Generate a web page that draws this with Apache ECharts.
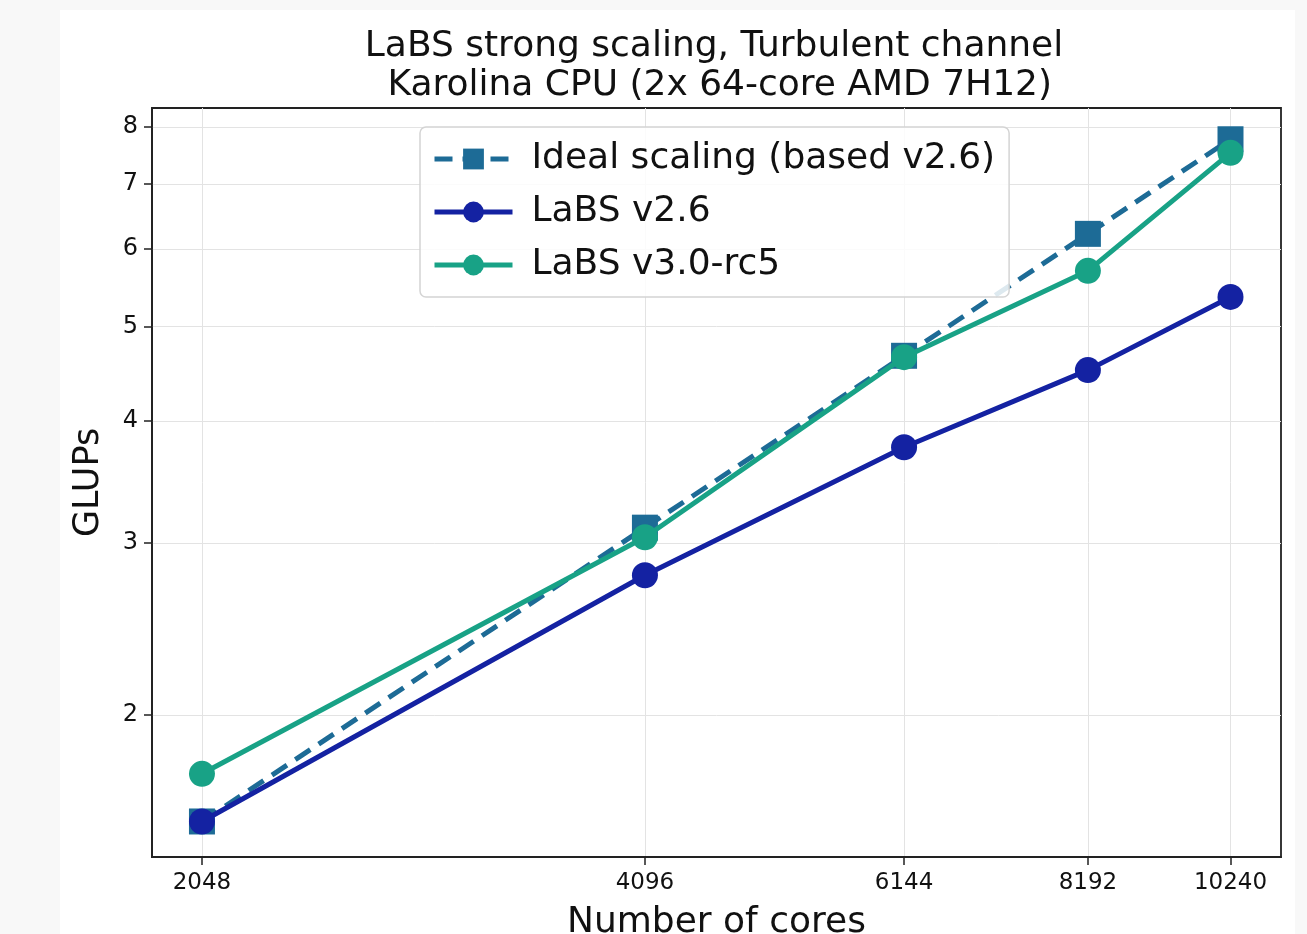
<!DOCTYPE html>
<html>
<head>
<meta charset="utf-8">
<script src="https://cdn.jsdelivr.net/npm/echarts@6/dist/echarts.min.js"></script>
<style>html,body{margin:0;padding:0;background:#f8f8f8;}#c{width:1307px;height:934px;}</style>
</head>
<body>
<div id="c"></div>
<script>
const cores = [2048, 4096, 6144, 8192, 10240];
const idealScaling = [1.555, 3.11, 4.665, 6.22, 7.775];
const labsV26 = [1.555, 2.78, 3.76, 4.51, 5.36];
const labsV30 = [1.74, 3.04, 4.65, 5.70, 7.53];
const yTicks = [2, 3, 4, 5, 6, 7, 8];
const xTicks = [2048, 4096, 6144, 8192, 10240];

const pair = (xs, ys) => xs.map((x, i) => [x, ys[i]]);
const FONT = 'DejaVu Sans';

const chart = echarts.init(document.getElementById('c'), null, {renderer: 'canvas'});
chart.setOption({
  backgroundColor: '#f8f8f8',
  animation: false,
  textStyle: {fontFamily: FONT},
  graphic: [{
    type: 'rect', silent: true, z: -10,
    shape: {x: 60, y: 10, width: 1235, height: 924},
    style: {fill: '#ffffff'}
  }],
  title: {
    text: 'LaBS strong scaling, Turbulent channel\n Karolina CPU (2x 64-core AMD 7H12)',
    left: 709, top: 22, textAlign: 'center',
    textStyle: {fontFamily: FONT, fontSize: 36, fontWeight: 'normal', color: '#111', lineHeight: 39}
  },
  grid: {left: 152, right: 26, top: 108, bottom: 77, show: true, borderColor: '#222', borderWidth: 1.8, outerBoundsMode: 'none', containLabel: false},
  legend: {
    orient: 'vertical', left: 420, top: 127,
    backgroundColor: 'rgba(255,255,255,0.85)',
    borderColor: '#d4d4d4', borderWidth: 1.5, borderRadius: 6,
    padding: [14, 14, 14, 12],
    itemWidth: 78, itemHeight: 26, itemGap: 17,
    lineStyle: {width: 5},
    textStyle: {fontFamily: FONT, fontSize: 36, color: '#111', padding: [0, 0, 0, 14]},
    data: ['Ideal scaling (based v2.6)', 'LaBS v2.6', 'LaBS v3.0-rc5']
  },
  xAxis: {
    type: 'log', logBase: 2, min: 1894, max: 11082,
    name: 'Number of cores', nameLocation: 'middle', nameGap: 48,
    nameTextStyle: {fontFamily: FONT, fontSize: 36, color: '#111', verticalAlign: 'top'},
    axisLine: {show: true, onZero: false, lineStyle: {color: '#222', width: 1.8}},
    axisTick: {show: true, length: 8, customValues: xTicks, lineStyle: {color: '#222', width: 1.5}},
    axisLabel: {customValues: xTicks, fontFamily: FONT, fontSize: 23, color: '#111', margin: 15, formatter: v => String(Math.round(v))},
    splitLine: {show: true, lineStyle: {color: '#e3e3e3', width: 1}},
    minorTick: {show: false}, minorSplitLine: {show: false}
  },
  yAxis: {
    type: 'log', logBase: 2, min: 1.43, max: 8.37,
    name: 'GLUPs', nameLocation: 'middle', nameGap: 46,
    nameTextStyle: {fontFamily: FONT, fontSize: 35, color: '#111'},
    axisLine: {show: true, onZero: false, lineStyle: {color: '#222', width: 1.8}},
    axisTick: {show: true, length: 8, customValues: yTicks, lineStyle: {color: '#222', width: 1.5}},
    axisLabel: {customValues: yTicks, fontFamily: FONT, fontSize: 24, color: '#111', margin: 14, formatter: v => String(Math.round(v))},
    splitLine: {show: true, lineStyle: {color: '#e3e3e3', width: 1}},
    minorTick: {show: false}, minorSplitLine: {show: false}
  },
  series: [
    {
      name: 'Ideal scaling (based v2.6)', type: 'line', data: pair(cores, idealScaling),
      symbol: 'rect', symbolSize: 26, z: 2,
      itemStyle: {color: '#1d6b96'},
      lineStyle: {color: '#1d6b96', width: 5, type: [18, 10]}
    },
    {
      name: 'LaBS v2.6', type: 'line', data: pair(cores, labsV26),
      symbol: 'circle', symbolSize: 26, z: 3,
      itemStyle: {color: '#1422a2'},
      lineStyle: {color: '#1422a2', width: 5}
    },
    {
      name: 'LaBS v3.0-rc5', type: 'line', data: pair(cores, labsV30),
      symbol: 'circle', symbolSize: 26, z: 4,
      itemStyle: {color: '#18a286'},
      lineStyle: {color: '#18a286', width: 5}
    }
  ]
});
</script>
</body>
</html>
